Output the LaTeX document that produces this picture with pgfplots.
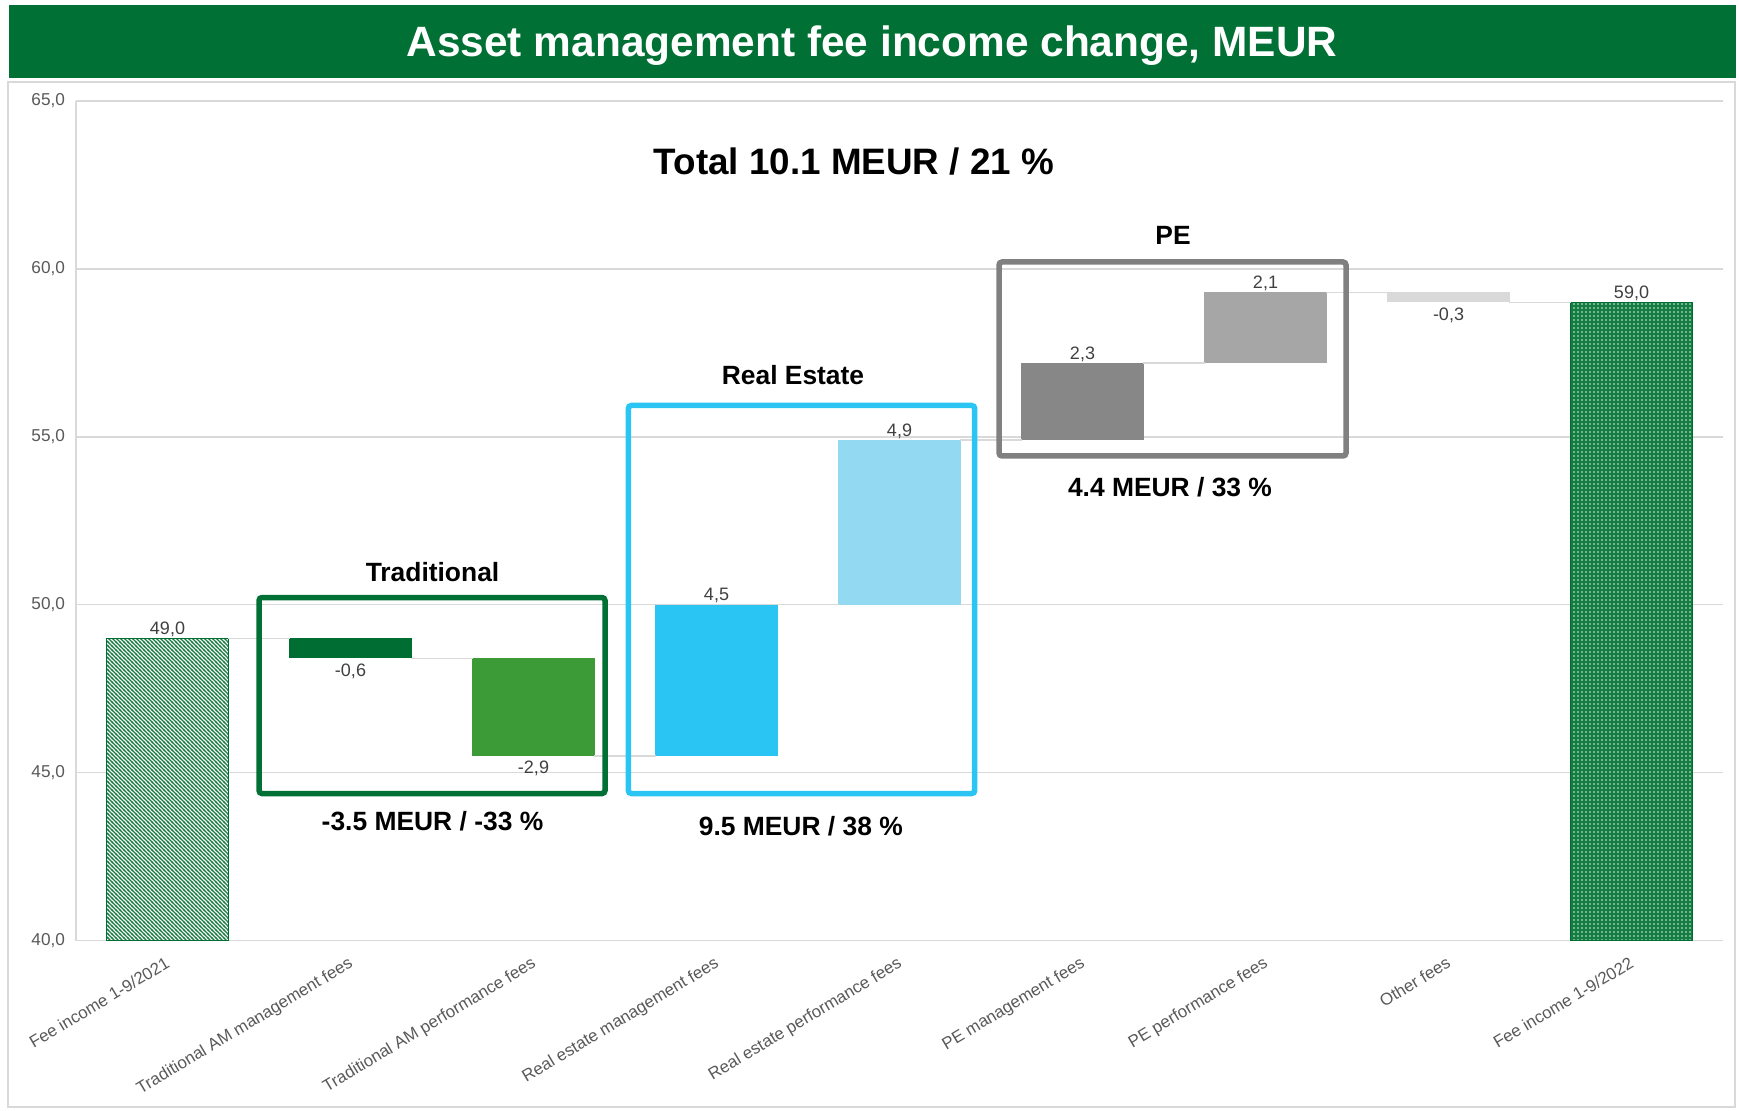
\documentclass[border=0pt]{standalone}
\usepackage{pgfplots}
\pgfplotsset{compat=1.18}
\usepackage{pgfplotstable}
\usepackage{fontspec}
\setmainfont{Liberation Sans}
\usetikzlibrary{patterns.meta}

\definecolor{bannergreen}{RGB}{0,112,52}
\definecolor{tradmgmt}{RGB}{0,110,50}
\definecolor{tradperf}{RGB}{60,155,55}
\definecolor{remgmt}{RGB}{43,197,244}
\definecolor{reperf}{RGB}{148,217,242}
\definecolor{pemgmt}{RGB}{135,135,135}
\definecolor{peperf}{RGB}{166,166,166}
\definecolor{otherfee}{RGB}{217,217,217}
\definecolor{gridgray}{RGB}{217,217,217}
\definecolor{labelgray}{RGB}{89,89,89}
\definecolor{valgray}{RGB}{64,64,64}
\definecolor{hatchgreen}{RGB}{25,125,65}
\definecolor{fullgreen}{RGB}{20,125,65}
\definecolor{boxgray}{RGB}{128,128,128}

\newcommand{\ticksize}{\fontsize{8.6pt}{10.3pt}\selectfont}
\newcommand{\catsize}{\fontsize{8.45pt}{10.1pt}\selectfont}
\newcommand{\valsize}{\fontsize{9pt}{10.8pt}\selectfont}
\newcommand{\boxsize}{\fontsize{13.2pt}{15.8pt}\selectfont\bfseries}
\newcommand{\totalsize}{\fontsize{18.4pt}{22pt}\selectfont\bfseries}
\newcommand{\titlesize}{\fontsize{21.2pt}{25pt}\selectfont\bfseries}

% fine diagonal hatch for the 2021 bar, fine dots for the 2022 bar
\pgfdeclarepattern{
  name=hatchNW, type=uncolored,
  bottom left={\pgfpoint{-.5pt}{-.5pt}}, top right={\pgfpoint{2.5pt}{2.5pt}},
  tile size={\pgfpoint{2pt}{2pt}},
  code={\pgfsetlinewidth{0.6pt}
        \pgfpathmoveto{\pgfpoint{-.5pt}{2.5pt}}\pgfpathlineto{\pgfpoint{2.5pt}{-.5pt}}
        \pgfusepath{stroke}}
}
\pgfdeclarepattern{
  name=fineDots, type=uncolored,
  bottom left={\pgfpoint{-.1pt}{-.1pt}}, top right={\pgfpoint{2.1pt}{2.1pt}},
  tile size={\pgfpoint{2pt}{2pt}},
  code={\pgfpathcircle{\pgfpoint{1pt}{1pt}}{0.45pt}\pgfusepath{fill}}
}

% waterfall: invisible base + one column per coloured step
\pgfplotstableread{
x base tm  tp  rm  rp  pm  pp  of
1 48.4 0.6 0   0   0   0   0   0
2 45.5 0   2.9 0   0   0   0   0
3 45.5 0   0   4.5 0   0   0   0
4 50.0 0   0   0   4.9 0   0   0
5 54.9 0   0   0   0   2.3 0   0
6 57.2 0   0   0   0   0   2.1 0
7 59.0 0   0   0   0   0   0   0.3
}\wfdata

\pgfplotstableread{
x y
0 49.0
}\startbar

\pgfplotstableread{
x y
8 59.0
}\endbar

\pgfplotstableread{
x y
0.333 49.0
0.667 49.0
nan nan
1.333 48.4
1.667 48.4
nan nan
2.333 45.5
2.667 45.5
nan nan
3.333 50.0
3.667 50.0
nan nan
4.333 54.9
4.667 54.9
nan nan
5.333 57.2
5.667 57.2
nan nan
6.333 59.3
6.667 59.3
nan nan
7.333 59.0
7.667 59.0
}\connectors

\pgfplotstableread{
x y lbl
0 49.0 49,0
3 50.0 4,5
4 54.9 4,9
5 57.2 2,3
6 59.3 2,1
8 59.0 59,0
}\labelsabove

\pgfplotstableread{
x y lbl
1 48.4 -0,6
2 45.5 -2,9
7 59.0 -0,3
}\labelsbelow

\pgfplotsset{wf/.style={
  at={(38pt,84.75pt)}, anchor=south west,
  scale only axis, width=823.5pt, height=419.75pt,
  xmin=-0.5, xmax=8.5, ymin=40, ymax=65,
}}

\begin{document}
\begin{tikzpicture}
\path[use as bounding box] (0,0) rectangle (869.5pt,555pt);

\begin{scope}[x=0.5pt, y=0.5pt]
% outer frame and title banner
\draw[gridgray, line width=0.75pt] (8,3) rectangle (1735,1028);
\fill[bannergreen] (9,1032.4) rectangle (1736,1104.5);
\node[anchor=base, text=white, font=\titlesize] at (872,1053.3)
  {Asset management fee income change, MEUR};
\end{scope}

\begin{axis}[wf,
  ybar stacked, bar width=0.667,
  axis x line*=bottom, axis y line*=left,
  axis line style={draw=gridgray, line width=0.75pt, -},
  ymajorgrids, grid style={draw=gridgray, line width=0.75pt},
  major tick length=0,
  ytick={40,45,...,65},
  /pgf/number format/fixed, /pgf/number format/fixed zerofill,
  /pgf/number format/precision=1, /pgf/number format/use comma,
  /pgf/number format/assume math mode=true,
  yticklabel style={font=\ticksize, text=labelgray, xshift=-2pt},
  xtick={0,...,8},
  xticklabels={Fee income 1-9/2021, Traditional AM management fees,
    Traditional AM performance fees, Real estate management fees,
    Real estate performance fees, PE management fees, PE performance fees,
    Other fees, Fee income 1-9/2022},
  xticklabel style={font=\catsize, text=labelgray, inner sep=0pt,
    xshift=-1.5pt, yshift=-7.5pt, rotate=31, anchor=north east},
]
\addplot[draw=none, fill=none] table[x=x, y=base] {\wfdata};
\addplot[draw=none, fill=tradmgmt] table[x=x, y=tm] {\wfdata};
\addplot[draw=none, fill=tradperf] table[x=x, y=tp] {\wfdata};
\addplot[draw=none, fill=remgmt] table[x=x, y=rm] {\wfdata};
\addplot[draw=none, fill=reperf] table[x=x, y=rp] {\wfdata};
\addplot[draw=none, fill=pemgmt] table[x=x, y=pm] {\wfdata};
\addplot[draw=none, fill=peperf] table[x=x, y=pp] {\wfdata};
\addplot[draw=none, fill=otherfee] table[x=x, y=of] {\wfdata};
\end{axis}

\begin{axis}[wf, hide axis]
% totals start at the axis floor
\addplot[ybar, bar width=0.667, bar shift=0pt, draw=tradmgmt, line width=0.75pt,
  fill=white, postaction={pattern=hatchNW, pattern color=hatchgreen}]
  table[x=x, y=y] {\startbar};
\addplot[ybar, bar width=0.667, bar shift=0pt, draw=tradmgmt, line width=0.75pt,
  fill=fullgreen, postaction={pattern=fineDots, pattern color=white!85!fullgreen}]
  table[x=x, y=y] {\endbar};
\addplot[gridgray, line width=0.75pt, unbounded coords=jump]
  table[x=x, y=y] {\connectors};
\addplot[draw=none, nodes near coords, point meta=explicit symbolic,
  every node near coord/.style={anchor=south, font=\valsize, text=valgray, inner sep=0.6pt}]
  table[x=x, y=y, meta=lbl] {\labelsabove};
\addplot[draw=none, nodes near coords, point meta=explicit symbolic,
  every node near coord/.style={anchor=north, font=\valsize, text=valgray, inner sep=2.5pt}]
  table[x=x, y=y, meta=lbl] {\labelsbelow};
\end{axis}

\begin{scope}[x=0.5pt, y=0.5pt]
% group boxes and their captions
\draw[bannergreen, line width=2.75pt, rounded corners=1.5pt] (259,316.5) rectangle (605,512.5);
\draw[remgmt, line width=2.75pt, rounded corners=1.5pt] (628.3,316.5) rectangle (974.7,704.5);
\draw[boxgray, line width=2.75pt, rounded corners=1.5pt] (999,654) rectangle (1346,848);

\node[anchor=base, font=\totalsize] at (854,935) {Total 10.1 MEUR / 21 \%};
\node[anchor=base, font=\boxsize] at (432.5,528.3) {Traditional};
\node[anchor=base, font=\boxsize] at (432.5,280) {-3.5 MEUR / -33 \%};
\node[anchor=base, font=\boxsize] at (793,725) {Real Estate};
\node[anchor=base, font=\boxsize] at (800.8,275) {9.5 MEUR / 38 \%};
\node[anchor=base, font=\boxsize] at (1173,865) {PE};
\node[anchor=base, font=\boxsize] at (1170,613.3) {4.4 MEUR / 33 \%};
\end{scope}
\end{tikzpicture}
\end{document}
